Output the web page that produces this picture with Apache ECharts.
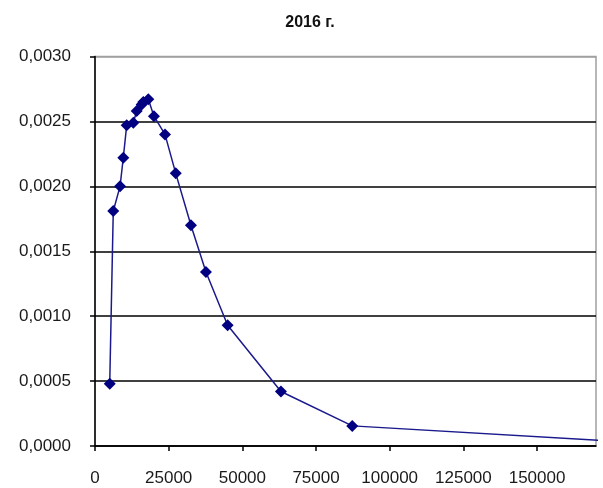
<!DOCTYPE html>
<html>
<head>
<meta charset="utf-8">
<script src="https://cdn.jsdelivr.net/npm/echarts@6/dist/echarts.min.js"></script>
<style>
html,body{margin:0;padding:0;background:#fff;}
#c{width:603px;height:488px;}
</style>
</head>
<body>
<div id="c"></div>
<script>
var titleText = '2016 г.';
var xValues = [5000, 6200, 8500, 9600, 10750, 13000, 14150, 15850, 16400, 18100, 20000, 23750, 27400, 32550, 37650, 45000, 63100, 87300, 205000];
var yValues = [0.00048, 0.00181, 0.00200, 0.00222, 0.00247, 0.00249, 0.00258, 0.00263, 0.00265, 0.00267, 0.00254, 0.00240, 0.00210, 0.00170, 0.00134, 0.00093, 0.00042, 0.000155, 0.0];
var xTicks = [0, 25000, 50000, 75000, 100000, 125000, 150000];
var yTicks = [0, 0.0005, 0.0010, 0.0015, 0.0020, 0.0025, 0.0030];

var points = xValues.map(function (x, i) { return [x, yValues[i]]; });
var chart = echarts.init(document.getElementById('c'), null, {renderer: 'canvas'});
var font = 'Liberation Sans, Arial, sans-serif';
chart.setOption({
  animation: false,
  backgroundColor: '#fff',
  title: {
    text: titleText, left: 305, top: 10, textAlign: 'center',
    textStyle: {fontFamily: font, fontSize: 16, fontWeight: 'bold', color: '#111'}
  },
  grid: {left: 95, top: 56.5, right: 7, bottom: 42, show: true, borderColor: '#a0a0a0', borderWidth: 1.5},
  xAxis: {
    type: 'value', min: 0, max: 170000, interval: 25000,
    axisLine: {lineStyle: {color: '#000', width: 1.5}},
    axisTick: {length: 5, lineStyle: {color: '#000', width: 1.5}},
    axisLabel: {
      fontFamily: font, fontSize: 17, color: '#1a1a1a', margin: 24, showMaxLabel: false,
      formatter: function (v) { return xTicks.indexOf(v) >= 0 ? String(v) : ''; }
    },
    splitLine: {show: false}
  },
  yAxis: {
    type: 'value', min: 0, max: 0.003, interval: 0.0005,
    axisLine: {show: true, lineStyle: {color: '#000', width: 1.5}},
    axisTick: {show: true, length: 5, lineStyle: {color: '#000', width: 1.5}},
    axisLabel: {
      fontFamily: font, fontSize: 17, color: '#1a1a1a', margin: 24,
      formatter: function (v) { return v.toFixed(4).replace('.', ','); }
    },
    splitLine: {show: true, lineStyle: {color: ['#000', '#000', '#000', '#000', '#000', '#000', '#a0a0a0'], width: 1.5}}
  },
  series: [{
    type: 'line', data: points, clip: true,
    symbol: 'diamond', symbolSize: 12, showAllSymbol: true,
    lineStyle: {color: '#1a1a8c', width: 1.5},
    itemStyle: {color: '#000080'}
  }]
});
</script>
</body>
</html>
